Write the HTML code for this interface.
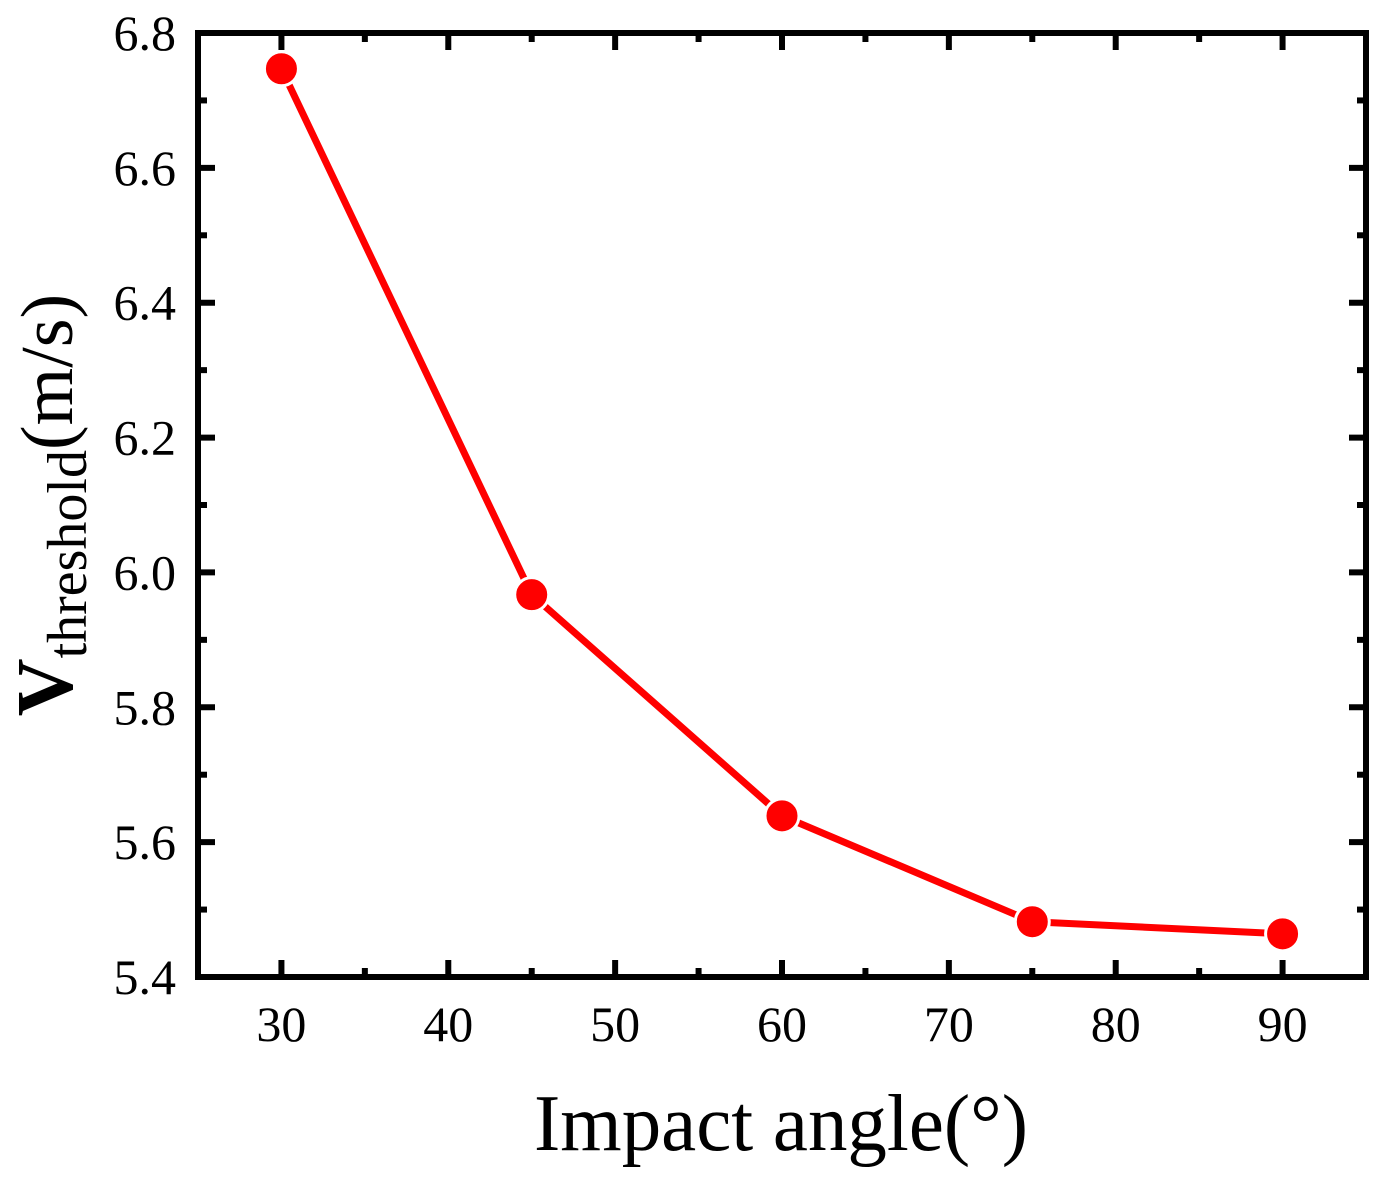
<!DOCTYPE html>
<html><head><meta charset="utf-8"><style>body{margin:0;background:#fff}svg{display:block}text{font-family:"Liberation Serif",serif}</style></head>
<body>
<svg id="chart" width="1383" height="1181" viewBox="0 0 1383 1181" xmlns="http://www.w3.org/2000/svg">
<text x="781" y="1150" font-size="80" text-anchor="middle" textLength="494" lengthAdjust="spacingAndGlyphs">Impact angle(°)</text>
<text transform="translate(72,505) rotate(-90)" text-anchor="middle"><tspan font-size="80" font-weight="bold">V</tspan><tspan font-size="56" dy="14">threshold</tspan><tspan font-size="74" dy="-14">(m/s)</tspan></text>
</svg>
<script>
const categories=[30,45,60,75,90];
const values=[6.747,5.967,5.639,5.482,5.464];
const xTicks=[30,40,50,60,70,80,90];
const yTicks=['5.4','5.6','5.8','6.0','6.2','6.4','6.6','6.8'];
const L=198,R=1366,T=33,B=977;
const xs=v=>L+(v-25)/(95-25)*(R-L);
const ys=v=>B-(v-5.4)/(6.8-5.4)*(B-T);
const svg=document.getElementById('chart');
const NS='http://www.w3.org/2000/svg';
function mk(tag,at){const e=document.createElementNS(NS,tag);for(const k in at)e.setAttribute(k,at[k]);svg.appendChild(e);return e;}
for(let v=25;v<=95;v+=5){const x=xs(v),len=(v%10===0)?17:9;
const t=mk('line',{x1:x,x2:x,y1:B,y2:B-len,stroke:'#000','stroke-width':6});

const t2=mk('line',{x1:x,x2:x,y1:T,y2:T+len,stroke:'#000','stroke-width':6});
}
xTicks.forEach(v=>{const t=mk('text',{x:xs(v),y:1041,'font-size':50,'text-anchor':'middle'});t.textContent=v;
});
for(let i=0;i<=14;i++){const v=5.4+i*0.1,y=ys(v),len=(i%2===0)?17:9;
const t=mk('line',{x1:L,x2:L+len,y1:y,y2:y,stroke:'#000','stroke-width':6});

const t2=mk('line',{x1:R,x2:R-len,y1:y,y2:y,stroke:'#000','stroke-width':6});
}
yTicks.forEach(s=>{const t=mk('text',{x:176,y:ys(parseFloat(s))+17,'font-size':50,'text-anchor':'end'});t.textContent=s;
});
const f=mk('rect',{x:L,y:T,width:R-L,height:B-T,fill:'none',stroke:'#000','stroke-width':6});

const pts=categories.map((c,i)=>xs(c)+','+ys(values[i])).join(' ');
const ln=mk('polyline',{points:pts,fill:'none',stroke:'#ff0000','stroke-width':7,'stroke-linejoin':'round'});

categories.forEach((c,i)=>{const m=mk('circle',{cx:xs(c),cy:ys(values[i]),r:17,fill:'#ff0000',stroke:'#fff','stroke-width':3});
});
</script>
</body></html>
